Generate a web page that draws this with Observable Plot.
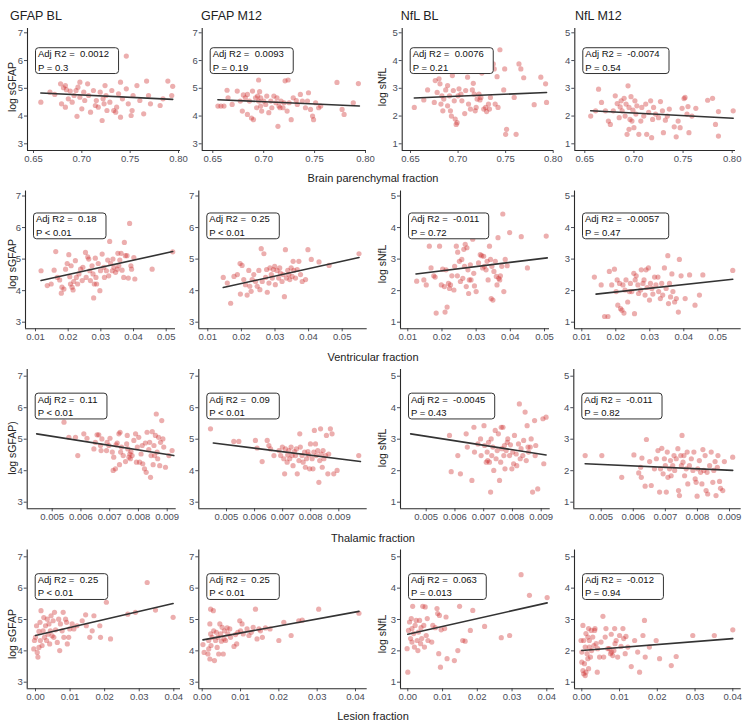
<!DOCTYPE html>
<html><head><meta charset="utf-8">
<script src="https://cdn.jsdelivr.net/npm/d3@7"></script>
<script src="https://cdn.jsdelivr.net/npm/@observablehq/plot@0.6"></script>
<style>
body{margin:0;background:#fff;}
#chart{position:relative;width:749px;height:725px;overflow:hidden;font-family:"Liberation Sans",Arial,sans-serif;color:#222;background:#fff;}
#chart svg{position:absolute;overflow:visible;}
.lbl{position:absolute;white-space:nowrap;}
</style></head><body><div id="chart"></div>
<script>
const columnTitles = ["GFAP BL", "GFAP M12", "NfL BL", "NfL M12"];
const rowTitles = ["Brain parenchymal fraction", "Ventricular fraction", "Thalamic fraction", "Lesion fraction"];
const yTitlesGFAP = ["log sGFAP", "log sGFAP", "log sGFAP)", "log sGFAP"];
const yTitleNfL = "log sNfL";
const xTickValues = [[0.65, 0.70, 0.75, 0.80], [0.01, 0.02, 0.03, 0.04, 0.05], [0.005, 0.006, 0.007, 0.008, 0.009], [0.00, 0.01, 0.02, 0.03, 0.04]];
const xTickDigits = [2, 2, 3, 2];
const yTicksGFAP = [3, 4, 5, 6, 7];
const yTicksNfL = [1, 2, 3, 4, 5];
const adjR2 = [["0.0012", "0.0093", "0.0076", "-0.0074"], ["0.18", "0.25", "-0.011", "-0.0057"], ["0.11", "0.09", "-0.0045", "-0.011"], ["0.25", "0.25", "0.063", "-0.012"]];
const pText = [["P = 0.3", "P = 0.19", "P = 0.21", "P = 0.54"], ["P < 0.01", "P < 0.01", "P = 0.72", "P = 0.47"], ["P < 0.01", "P < 0.01", "P = 0.43", "P = 0.82"], ["P < 0.01", "P < 0.01", "P = 0.013", "P = 0.94"]];

// Brain parenchymal fraction
const bpf_gfap_bl = [[0.6576,4.50],[0.667,4.86],[0.672,4.78],[0.678,5.16],[0.681,5.02],[0.683,5.10],[0.684,4.95],[0.686,4.62],[0.688,4.90],[0.679,4.44],[0.683,4.32],[0.690,4.50],[0.692,4.74],[0.694,4.92],[0.695,3.99],[0.696,5.04],[0.698,5.22],[0.698,4.68],[0.700,4.26],[0.702,4.86],[0.703,4.56],[0.706,5.16],[0.707,4.74],[0.709,4.14],[0.712,4.92],[0.714,4.38],[0.715,4.56],[0.717,4.32],[0.719,4.86],[0.721,3.84],[0.722,4.62],[0.723,4.44],[0.724,5.10],[0.725,4.74],[0.726,4.20],[0.729,4.50],[0.731,4.92],[0.733,4.20],[0.735,4.14],[0.736,4.32],[0.738,4.80],[0.740,5.22],[0.740,3.96],[0.742,4.62],[0.746,6.16],[0.746,4.98],[0.748,4.44],[0.751,4.02],[0.752,4.20],[0.753,4.74],[0.757,5.10],[0.760,4.56],[0.764,4.08],[0.767,5.26],[0.769,4.74],[0.771,4.44],[0.781,4.38],[0.784,4.62],[0.789,5.26],[0.793,4.74],[0.794,5.07]];
const bpf_gfap_m12 = [[0.655,4.36],[0.658,4.36],[0.661,4.36],[0.664,4.93],[0.665,4.66],[0.669,4.42],[0.674,4.90],[0.677,4.54],[0.679,4.18],[0.680,4.76],[0.682,4.66],[0.684,4.06],[0.684,4.78],[0.686,4.54],[0.688,3.93],[0.689,4.90],[0.690,3.87],[0.692,4.66],[0.693,4.30],[0.694,4.72],[0.695,5.30],[0.695,4.54],[0.696,4.88],[0.697,4.36],[0.697,4.66],[0.698,4.18],[0.700,4.54],[0.702,4.42],[0.703,4.72],[0.705,4.12],[0.707,4.54],[0.708,4.30],[0.710,4.72],[0.712,4.48],[0.713,4.66],[0.714,3.63],[0.715,4.36],[0.716,4.30],[0.717,4.54],[0.719,4.30],[0.720,4.48],[0.721,5.27],[0.723,4.18],[0.724,5.30],[0.725,4.48],[0.727,3.87],[0.729,4.66],[0.732,4.56],[0.733,4.42],[0.736,4.78],[0.738,4.54],[0.741,4.30],[0.743,4.54],[0.744,4.84],[0.746,4.24],[0.748,4.00],[0.749,3.87],[0.751,4.48],[0.754,4.30],[0.756,4.36],[0.772,5.21],[0.777,4.24],[0.779,4.06],[0.788,4.48],[0.793,5.17]];
const bpf_nfl_bl = [[0.654,2.31],[0.664,2.58],[0.668,2.94],[0.675,2.49],[0.676,3.28],[0.678,2.85],[0.680,3.34],[0.681,3.16],[0.682,2.43],[0.683,2.73],[0.684,2.19],[0.685,2.61],[0.687,2.94],[0.689,2.37],[0.689,3.10],[0.691,2.73],[0.692,2.19],[0.693,2.00],[0.694,3.46],[0.695,2.92],[0.696,2.55],[0.697,1.89],[0.698,1.70],[0.699,1.76],[0.700,2.73],[0.701,2.98],[0.703,2.79],[0.704,2.55],[0.707,2.09],[0.708,2.92],[0.710,3.40],[0.711,2.43],[0.713,2.25],[0.715,2.94],[0.716,3.18],[0.717,2.79],[0.718,2.19],[0.719,2.31],[0.720,2.61],[0.722,2.79],[0.723,2.58],[0.724,2.67],[0.725,3.55],[0.727,2.25],[0.729,2.31],[0.730,2.16],[0.732,2.43],[0.733,2.25],[0.734,2.67],[0.737,3.88],[0.738,3.70],[0.739,2.43],[0.741,3.42],[0.742,2.31],[0.744,4.39],[0.748,2.94],[0.749,3.70],[0.750,1.34],[0.751,1.52],[0.759,2.67],[0.761,1.34],[0.764,3.88],[0.766,3.70],[0.769,3.38],[0.780,2.41],[0.787,3.40],[0.792,3.16],[0.793,2.49]];
const bpf_nfl_m12 = [[0.656,2.00],[0.661,2.19],[0.664,2.97],[0.667,2.49],[0.671,2.19],[0.674,1.82],[0.676,1.70],[0.679,2.19],[0.681,2.73],[0.683,2.45],[0.685,1.94],[0.686,2.33],[0.687,2.55],[0.688,2.19],[0.690,2.64],[0.691,2.00],[0.692,2.43],[0.693,1.34],[0.694,3.09],[0.695,1.52],[0.695,2.31],[0.696,1.88],[0.697,2.70],[0.698,1.82],[0.699,2.21],[0.700,1.58],[0.701,2.55],[0.702,2.07],[0.703,2.37],[0.705,1.34],[0.707,1.82],[0.708,2.31],[0.710,2.00],[0.712,2.43],[0.713,1.34],[0.715,2.13],[0.717,2.55],[0.718,1.22],[0.719,1.88],[0.720,2.31],[0.722,2.07],[0.725,1.94],[0.727,2.52],[0.729,2.19],[0.730,1.40],[0.732,1.85],[0.734,2.00],[0.736,2.25],[0.741,1.61],[0.743,1.25],[0.745,1.82],[0.747,1.58],[0.749,2.28],[0.751,2.63],[0.752,2.67],[0.754,2.07],[0.755,2.34],[0.756,1.40],[0.759,2.00],[0.763,2.28],[0.775,2.57],[0.780,2.64],[0.783,1.70],[0.786,1.28],[0.786,2.16],[0.801,2.19]];

// Ventricular fraction
const vf_gfap_bl = [[0.0117,4.63],[0.0136,4.16],[0.0148,4.21],[0.0157,4.65],[0.0162,5.24],[0.0167,4.42],[0.0174,4.34],[0.0179,3.92],[0.0181,4.11],[0.0187,4.05],[0.0192,4.68],[0.0197,4.86],[0.0202,5.14],[0.0205,4.44],[0.0207,4.21],[0.0209,4.79],[0.0212,4.11],[0.0215,4.02],[0.0217,4.29],[0.0222,4.95],[0.0225,4.42],[0.0229,4.21],[0.0233,4.53],[0.0238,4.68],[0.0243,4.32],[0.0245,4.74],[0.0253,5.21],[0.0255,4.42],[0.0260,5.07],[0.0263,5.00],[0.0266,4.63],[0.0268,4.32],[0.0273,4.79],[0.0276,4.53],[0.0278,3.77],[0.0280,4.21],[0.0283,5.03],[0.0285,4.42],[0.0287,4.21],[0.0292,4.86],[0.0297,4.00],[0.0299,4.63],[0.0304,5.16],[0.0309,4.74],[0.0311,4.42],[0.0317,4.63],[0.0321,4.97],[0.0324,4.47],[0.0327,5.56],[0.0330,4.86],[0.0335,4.63],[0.0337,5.00],[0.0340,4.74],[0.0345,4.58],[0.0350,4.68],[0.0352,5.18],[0.0355,4.79],[0.0358,4.97],[0.0362,5.18],[0.0365,4.65],[0.0370,4.42],[0.0372,5.53],[0.0375,5.11],[0.0380,5.11],[0.0384,4.40],[0.0388,6.13],[0.0392,4.79],[0.0394,4.68],[0.0401,5.05],[0.0404,4.37],[0.0457,4.68],[0.0520,5.23]];
const vf_gfap_m12 = [[0.0146,4.42],[0.0158,4.24],[0.0168,3.60],[0.0178,4.45],[0.0188,4.51],[0.0196,4.86],[0.0197,3.89],[0.0202,4.80],[0.0207,4.35],[0.0212,4.19],[0.0217,3.86],[0.0222,4.64],[0.0225,4.14],[0.0229,3.98],[0.0232,4.35],[0.0237,4.51],[0.0242,4.29],[0.0247,4.14],[0.0252,4.64],[0.0255,4.03],[0.0259,5.33],[0.0262,4.29],[0.0267,5.17],[0.0272,4.42],[0.0275,4.67],[0.0277,3.95],[0.0282,4.24],[0.0285,4.72],[0.0289,4.51],[0.0292,4.40],[0.0295,4.67],[0.0299,4.77],[0.0301,4.19],[0.0306,4.64],[0.0311,4.40],[0.0314,4.72],[0.0316,4.56],[0.0321,4.29],[0.0324,4.51],[0.0328,3.81],[0.0331,5.30],[0.0334,4.40],[0.0338,4.64],[0.0341,4.51],[0.0344,4.35],[0.0348,4.72],[0.0351,4.45],[0.0354,4.93],[0.0356,4.64],[0.0361,4.40],[0.0366,4.67],[0.0371,4.93],[0.0376,4.51],[0.0381,4.29],[0.0391,4.35],[0.0398,5.30],[0.0408,4.99],[0.0431,4.91],[0.0461,4.80],[0.0550,5.17]];
const vf_nfl_bl = [[0.0126,2.30],[0.0147,2.34],[0.0154,2.18],[0.0163,3.41],[0.0168,2.72],[0.0176,2.47],[0.0180,2.43],[0.0183,1.29],[0.0193,3.41],[0.0198,2.18],[0.0202,2.68],[0.0207,2.13],[0.0209,1.32],[0.0212,2.66],[0.0215,1.48],[0.0219,2.23],[0.0222,2.07],[0.0225,2.18],[0.0229,2.47],[0.0235,2.02],[0.0237,2.77],[0.0242,3.41],[0.0245,2.47],[0.0246,3.22],[0.0251,2.93],[0.0254,2.29],[0.0258,2.99],[0.0261,2.39],[0.0264,3.31],[0.0266,2.77],[0.0268,3.47],[0.0271,2.13],[0.0273,3.36],[0.0276,2.66],[0.0278,1.91],[0.0280,2.34],[0.0283,2.82],[0.0285,2.34],[0.0290,3.63],[0.0293,2.55],[0.0295,2.15],[0.0300,1.97],[0.0307,2.88],[0.0312,3.14],[0.0316,3.11],[0.0319,2.72],[0.0322,3.09],[0.0324,2.77],[0.0329,2.66],[0.0332,2.93],[0.0335,2.34],[0.0339,3.41],[0.0342,2.99],[0.0344,1.75],[0.0346,2.77],[0.0349,1.70],[0.0352,2.61],[0.0356,2.93],[0.0359,2.45],[0.0361,2.18],[0.0364,3.68],[0.0366,2.39],[0.0369,2.34],[0.0371,2.47],[0.0375,2.77],[0.0378,4.43],[0.0381,1.97],[0.0385,2.99],[0.0391,2.79],[0.0398,3.84],[0.0432,3.71],[0.0450,2.72],[0.0505,3.73]];
const vf_nfl_m12 = [[0.0137,2.43],[0.0157,2.18],[0.0167,1.18],[0.0177,1.18],[0.0181,2.61],[0.0188,2.18],[0.0196,2.68],[0.0201,1.97],[0.0204,2.34],[0.0206,1.54],[0.0211,2.23],[0.0214,1.43],[0.0218,1.38],[0.0221,2.18],[0.0224,1.29],[0.0227,2.02],[0.0230,2.34],[0.0235,1.64],[0.0240,1.97],[0.0243,2.23],[0.0247,1.97],[0.0253,2.55],[0.0255,1.27],[0.0257,2.34],[0.0260,2.47],[0.0265,2.18],[0.0267,1.91],[0.0273,2.02],[0.0275,2.66],[0.0280,2.23],[0.0283,2.34],[0.0286,1.86],[0.0289,2.66],[0.0292,2.10],[0.0296,2.72],[0.0299,1.70],[0.0302,2.23],[0.0306,2.07],[0.0309,1.89],[0.0314,2.43],[0.0318,2.18],[0.0324,2.43],[0.0326,1.97],[0.0331,1.75],[0.0335,2.23],[0.0338,1.86],[0.0343,2.72],[0.0348,2.07],[0.0353,3.11],[0.0355,1.59],[0.0358,2.23],[0.0361,1.80],[0.0365,2.53],[0.0368,1.97],[0.0373,1.64],[0.0378,1.75],[0.0384,1.32],[0.0387,2.99],[0.0392,2.47],[0.0404,1.75],[0.0417,2.50],[0.0433,1.54],[0.0446,1.86],[0.0456,2.50],[0.0544,2.64]];

// Thalamic fraction
const tf_gfap_bl = [[0.00541,5.54],[0.00558,5.06],[0.00581,5.06],[0.00589,4.48],[0.00610,5.17],[0.00621,5.03],[0.00645,4.69],[0.00650,4.90],[0.00656,5.14],[0.00662,5.14],[0.00668,4.80],[0.00670,4.64],[0.00673,5.01],[0.00689,4.64],[0.00691,4.90],[0.00697,4.80],[0.00701,5.03],[0.00709,4.59],[0.00712,4.01],[0.00714,4.43],[0.00720,4.06],[0.00722,4.82],[0.00726,4.88],[0.00732,5.17],[0.00734,4.19],[0.00736,5.22],[0.00738,4.59],[0.00741,4.75],[0.00747,4.48],[0.00755,4.29],[0.00759,4.85],[0.00761,5.12],[0.00763,4.69],[0.00767,4.43],[0.00770,4.53],[0.00772,4.38],[0.00774,4.61],[0.00778,4.48],[0.00784,4.96],[0.00790,5.17],[0.00793,4.27],[0.00796,4.75],[0.00801,5.06],[0.00804,4.27],[0.00809,4.53],[0.00813,4.80],[0.00815,4.22],[0.00821,4.06],[0.00824,4.88],[0.00827,3.95],[0.00830,5.22],[0.00836,4.67],[0.00839,4.90],[0.00842,3.79],[0.00844,4.48],[0.00848,5.24],[0.00851,4.19],[0.00854,4.80],[0.00856,4.48],[0.00859,5.12],[0.00862,5.80],[0.00865,4.59],[0.00867,4.38],[0.00870,5.06],[0.00874,4.16],[0.00877,4.90],[0.00881,5.59],[0.00885,5.01],[0.00888,4.75],[0.00894,4.11],[0.00906,4.48],[0.00917,4.64]];
const tf_gfap_m12 = [[0.00443,5.33],[0.00526,4.93],[0.00544,4.93],[0.00603,4.96],[0.00609,4.72],[0.00627,4.29],[0.00645,4.96],[0.00651,4.80],[0.00657,4.69],[0.00669,4.48],[0.00687,4.64],[0.00693,4.48],[0.00699,4.75],[0.00704,4.38],[0.00707,3.90],[0.00710,4.69],[0.00716,4.27],[0.00718,4.50],[0.00722,4.64],[0.00725,4.38],[0.00730,4.75],[0.00734,4.48],[0.00737,4.16],[0.00742,4.61],[0.00746,4.48],[0.00749,4.69],[0.00752,3.90],[0.00758,4.32],[0.00761,5.17],[0.00763,4.75],[0.00769,4.48],[0.00773,4.27],[0.00778,4.59],[0.00781,4.11],[0.00785,4.38],[0.00790,4.61],[0.00793,4.50],[0.00796,4.06],[0.00799,4.85],[0.00805,4.38],[0.00808,4.06],[0.00811,4.59],[0.00813,5.28],[0.00817,4.85],[0.00820,4.48],[0.00825,4.64],[0.00829,3.63],[0.00832,4.32],[0.00835,5.33],[0.00837,4.53],[0.00841,4.11],[0.00844,4.64],[0.00847,4.38],[0.00853,4.48],[0.00856,5.12],[0.00861,3.90],[0.00864,4.53],[0.00870,5.33],[0.00876,5.17],[0.00882,3.90],[0.00894,4.01],[0.00971,4.48]];
const tf_nfl_bl = [[0.00581,3.12],[0.00587,1.97],[0.00610,2.48],[0.00619,1.90],[0.00639,3.17],[0.00643,2.75],[0.00659,1.69],[0.00666,3.38],[0.00668,2.59],[0.00680,2.85],[0.00689,3.01],[0.00691,2.48],[0.00701,3.43],[0.00703,2.80],[0.00709,2.27],[0.00712,2.59],[0.00714,2.32],[0.00717,2.90],[0.00720,2.27],[0.00724,1.32],[0.00726,3.01],[0.00728,2.48],[0.00732,2.75],[0.00735,2.01],[0.00740,3.28],[0.00743,2.38],[0.00747,2.64],[0.00751,3.17],[0.00755,1.69],[0.00759,2.27],[0.00761,3.38],[0.00763,2.70],[0.00767,3.38],[0.00770,2.48],[0.00772,2.80],[0.00774,2.06],[0.00778,2.64],[0.00782,2.90],[0.00784,3.01],[0.00790,2.48],[0.00793,2.82],[0.00798,2.06],[0.00801,2.59],[0.00804,2.22],[0.00807,3.12],[0.00813,2.53],[0.00815,2.16],[0.00821,2.85],[0.00824,4.12],[0.00827,2.38],[0.00830,2.70],[0.00836,2.48],[0.00839,2.96],[0.00844,3.86],[0.00848,2.32],[0.00851,3.43],[0.00854,2.75],[0.00856,2.59],[0.00862,2.75],[0.00865,3.01],[0.00870,1.32],[0.00877,3.59],[0.00879,2.48],[0.00881,2.80],[0.00888,1.42],[0.00906,3.65],[0.00909,2.22],[0.00917,3.70]];
const tf_nfl_m12 = [[0.00450,2.48],[0.00502,2.48],[0.00564,1.79],[0.00602,2.50],[0.00617,1.93],[0.00623,2.11],[0.00625,1.79],[0.00627,2.40],[0.00637,1.51],[0.00641,2.99],[0.00651,2.29],[0.00656,1.53],[0.00666,2.06],[0.00672,2.38],[0.00677,2.64],[0.00682,1.32],[0.00685,2.06],[0.00689,2.71],[0.00693,1.90],[0.00697,2.38],[0.00700,2.16],[0.00703,1.32],[0.00706,2.59],[0.00708,1.79],[0.00713,2.06],[0.00716,2.32],[0.00718,1.84],[0.00723,2.16],[0.00727,2.48],[0.00729,2.01],[0.00734,2.38],[0.00739,2.70],[0.00741,1.37],[0.00744,1.21],[0.00748,2.48],[0.00750,2.16],[0.00752,3.12],[0.00755,2.27],[0.00758,2.48],[0.00760,1.84],[0.00765,2.06],[0.00768,2.59],[0.00770,1.58],[0.00775,2.16],[0.00781,2.38],[0.00786,2.01],[0.00789,2.59],[0.00793,1.74],[0.00796,1.63],[0.00799,1.19],[0.00801,2.06],[0.00806,2.32],[0.00810,1.95],[0.00814,1.58],[0.00817,2.67],[0.00820,2.01],[0.00824,2.48],[0.00827,1.37],[0.00830,1.95],[0.00832,1.26],[0.00838,2.16],[0.00843,2.59],[0.00848,1.63],[0.00851,2.01],[0.00855,2.29],[0.00858,1.21],[0.00862,2.11],[0.00864,2.48],[0.00869,1.66],[0.00872,1.44],[0.00879,1.37],[0.00884,2.29],[0.00910,2.43]];

// Lesion fraction
const lf_gfap_bl = [[-0.0005,4.06],[-0.0003,4.33],[0.0000,4.43],[0.0003,4.80],[0.0005,3.95],[0.0007,3.80],[0.0010,4.11],[0.0010,4.62],[0.0013,4.91],[0.0014,4.33],[0.0016,5.28],[0.0019,4.17],[0.0022,4.64],[0.0024,5.06],[0.0026,4.43],[0.0029,4.80],[0.0032,4.33],[0.0034,5.01],[0.0036,4.53],[0.0039,4.86],[0.0041,4.22],[0.0043,4.64],[0.0045,5.12],[0.0048,4.48],[0.0051,4.96],[0.0053,4.43],[0.0055,5.23],[0.0058,4.67],[0.0063,4.27],[0.0067,5.01],[0.0070,4.01],[0.0072,4.86],[0.0077,4.64],[0.0080,5.23],[0.0082,4.43],[0.0087,5.01],[0.0090,4.91],[0.0092,4.22],[0.0096,4.43],[0.0099,4.70],[0.0106,4.86],[0.0111,4.70],[0.0120,4.80],[0.0135,4.96],[0.0145,5.15],[0.0147,4.80],[0.0157,4.43],[0.0164,4.64],[0.0169,5.12],[0.0186,4.80],[0.0188,4.43],[0.0205,5.55],[0.0217,4.38],[0.0267,5.17],[0.0289,5.23],[0.0323,6.18],[0.0347,5.30],[0.0398,5.07]];
const lf_gfap_m12 = [[0.0002,4.20],[0.0005,3.95],[0.0015,3.90],[0.0017,4.06],[0.0017,4.33],[0.0020,3.74],[0.0020,4.86],[0.0022,4.54],[0.0022,5.33],[0.0023,4.17],[0.0026,4.43],[0.0029,5.28],[0.0030,4.64],[0.0032,3.69],[0.0035,4.33],[0.0037,4.59],[0.0039,4.11],[0.0041,4.43],[0.0043,3.90],[0.0046,4.86],[0.0048,4.54],[0.0050,4.31],[0.0052,4.75],[0.0055,3.90],[0.0057,4.38],[0.0058,4.64],[0.0061,4.33],[0.0065,4.73],[0.0067,4.54],[0.0072,4.70],[0.0074,4.43],[0.0083,4.14],[0.0087,4.52],[0.0090,4.22],[0.0093,4.59],[0.0098,4.96],[0.0100,4.64],[0.0104,4.86],[0.0107,4.54],[0.0117,4.70],[0.0122,4.49],[0.0128,4.59],[0.0133,4.75],[0.0139,5.33],[0.0143,4.38],[0.0148,4.70],[0.0152,4.64],[0.0157,4.43],[0.0165,4.73],[0.0177,4.70],[0.0200,4.33],[0.0213,4.91],[0.0232,4.49],[0.0252,4.96],[0.0261,4.98],[0.0304,5.33],[0.0409,5.20]];
const lf_nfl_bl = [[-0.0002,2.07],[0.0000,1.32],[0.0002,2.65],[0.0005,2.92],[0.0008,2.39],[0.0010,3.03],[0.0012,2.71],[0.0012,2.28],[0.0014,3.42],[0.0017,2.55],[0.0019,2.12],[0.0021,2.81],[0.0024,2.97],[0.0027,2.33],[0.0029,2.01],[0.0031,2.60],[0.0034,2.97],[0.0037,2.23],[0.0038,2.74],[0.0040,2.39],[0.0043,3.42],[0.0046,2.81],[0.0048,2.12],[0.0050,3.40],[0.0053,2.49],[0.0056,3.03],[0.0058,2.33],[0.0069,2.28],[0.0072,2.81],[0.0079,2.74],[0.0084,3.35],[0.0086,3.19],[0.0089,1.91],[0.0091,3.13],[0.0094,1.48],[0.0096,2.67],[0.0106,2.71],[0.0110,3.08],[0.0113,1.75],[0.0134,1.69],[0.0144,2.01],[0.0149,3.42],[0.0158,2.33],[0.0165,2.31],[0.0180,2.65],[0.0187,3.29],[0.0221,2.78],[0.0269,2.42],[0.0293,2.49],[0.0326,4.43],[0.0350,3.77],[0.0401,3.70]];
const lf_nfl_m12 = [[-0.0002,2.33],[0.0000,1.96],[0.0000,1.64],[0.0003,1.37],[0.0003,2.81],[0.0005,1.27],[0.0005,2.33],[0.0007,1.59],[0.0009,1.21],[0.0009,2.12],[0.0011,2.55],[0.0011,1.32],[0.0014,1.91],[0.0016,2.44],[0.0016,1.75],[0.0018,1.43],[0.0018,2.71],[0.0020,2.33],[0.0020,2.12],[0.0023,1.80],[0.0025,2.65],[0.0026,2.01],[0.0029,2.44],[0.0032,2.17],[0.0034,2.65],[0.0035,2.71],[0.0038,2.23],[0.0041,1.32],[0.0042,2.07],[0.0047,1.80],[0.0051,2.28],[0.0056,3.10],[0.0058,1.80],[0.0062,2.44],[0.0064,2.71],[0.0069,2.07],[0.0073,2.07],[0.0076,1.91],[0.0078,2.53],[0.0079,1.96],[0.0082,1.85],[0.0085,2.01],[0.0087,2.71],[0.0088,2.23],[0.0091,2.33],[0.0095,1.80],[0.0100,2.49],[0.0104,2.14],[0.0109,2.71],[0.0111,2.39],[0.0115,1.91],[0.0117,2.46],[0.0122,2.12],[0.0131,1.50],[0.0140,2.33],[0.0148,1.96],[0.0153,1.32],[0.0162,2.49],[0.0166,2.97],[0.0168,1.80],[0.0179,2.12],[0.0197,2.33],[0.0206,1.75],[0.0237,1.53],[0.0250,1.82],[0.0294,2.49],[0.0351,2.49],[0.0400,2.67]];

// Fitted regression lines (end points)
const fit_bpf = [[[0.6576,4.83],[0.794,4.60]], [[0.655,4.59],[0.794,4.36]], [[0.654,2.65],[0.793,2.85]], [[0.656,2.19],[0.801,1.92]]];
const fit_vf = [[[0.0117,4.32],[0.0520,5.24]], [[0.0146,4.10],[0.0550,5.05]], [[0.0124,2.53],[0.0508,3.04]], [[0.0142,1.89],[0.0544,2.36]]];
const fit_tf = [[[0.00446,5.17],[0.00923,4.48]], [[0.00453,4.88],[0.00977,4.29]], [[0.00446,3.17],[0.00917,2.50]], [[0.00450,2.22],[0.00910,2.01]]];
const fit_lf = [[[0.0000,4.49],[0.0398,5.51]], [[0.0002,4.35],[0.0409,5.26]], [[0.0000,2.53],[0.0401,3.53]], [[0.0000,2.01],[0.0400,2.39]]];

const points = [[bpf_gfap_bl, bpf_gfap_m12, bpf_nfl_bl, bpf_nfl_m12], [vf_gfap_bl, vf_gfap_m12, vf_nfl_bl, vf_nfl_m12], [tf_gfap_bl, tf_gfap_m12, tf_nfl_bl, tf_nfl_m12], [lf_gfap_bl, lf_gfap_m12, lf_nfl_bl, lf_nfl_m12]];
const fits = [fit_bpf, fit_vf, fit_tf, fit_lf];

// ---- layout (pixels) ----
const colSvg = [[0, 182], [182, 374], [374, 557], [557, 749]];
const rowGeom = [
  {svgTop: 20, top: 28, bottom: 150, svgBottom: 170, pLow: 143.3, pHigh: 32.3},
  {svgTop: 183, top: 190.5, bottom: 328.3, svgBottom: 349, pLow: 321.7, pHigh: 195.5},
  {svgTop: 363, top: 369, bottom: 508.3, svgBottom: 529, pLow: 501.7, pHigh: 375.7},
  {svgTop: 543, top: 549.5, bottom: 688.3, svgBottom: 709, pLow: 681.7, pHigh: 556.3}
];
// [frameLeft, frameRight, v0, px0, v1, px1]
const xGeom = [
  [[27,180,0.65,33,0.80,178],[201.7,366,0.65,212.3,0.80,365],[401.7,553,0.65,410,0.80,552.7],[574.3,735,0.65,584.3,0.80,731.7]],
  [[25,175,0.01,35,0.05,165.7],[198.3,366.7,0.01,207.3,0.05,341.7],[400,549,0.01,407.3,0.05,544],[574,740.7,0.01,581.3,0.05,717.3]],
  [[26.7,175.7,0.005,51.7,0.009,166.7],[198.3,366.7,0.005,226,0.009,338.3],[400,549.7,0.005,425.7,0.009,540.7],[573.3,740.7,0.005,600.7,0.009,729]],
  [[26.7,180,0,35,0.04,173.3],[198.3,366.7,0,201.7,0.04,355],[400,554,0,407.3,0.04,546.3],[574,740.7,0,581.3,0.04,732.3]]
];
const titleX = [10, 201, 400.7, 575];
const rowTitleY = [178, 357, 538, 716];
const yTitleY = [87, 264, 448, 634];
const yTitleX = [12, null, 382, null];

const chart = document.getElementById("chart");
const NS = "http://www.w3.org/2000/svg";
const FONT = '"Liberation Sans", Arial, sans-serif';

for (let r = 0; r < 4; r++) {
  const rg = rowGeom[r];
  for (let c = 0; c < 4; c++) {
    const [fl, fr, v0, p0, v1, p1] = xGeom[r][c];
    const kx = (v1 - v0) / (p1 - p0);
    const xDom = [v0 + (fl - p0) * kx, v0 + (fr - p0) * kx];
    const nfl = c >= 2;
    const [ya, yb] = nfl ? [1, 5] : [3, 7];
    const ky = (yb - ya) / (rg.pHigh - rg.pLow);
    const yDom = [ya + (rg.bottom - rg.pLow) * ky, ya + (rg.top - rg.pLow) * ky];
    const [sx0, sx1] = colSvg[c];
    const digits = xTickDigits[r];
    const label = "Adj R2 =  " + adjR2[r][c] + "\n" + pText[r][c];
    const svg = Plot.plot({
      width: sx1 - sx0,
      height: rg.svgBottom - rg.svgTop,
      marginLeft: fl - sx0,
      marginRight: sx1 - fr,
      marginTop: rg.top - rg.svgTop,
      marginBottom: rg.svgBottom - rg.bottom,
      x: {domain: xDom},
      y: {domain: yDom},
      style: {background: "none", fontFamily: FONT, fontSize: "9.5px", color: "#4a4d58", overflow: "visible"},
      marks: [
        Plot.axisX({ticks: xTickValues[r], tickFormat: d => d.toFixed(digits), tickSize: 3, tickPadding: 1.5, label: null, fontSize: 9.5}),
        Plot.axisY({ticks: nfl ? yTicksNfL : yTicksGFAP, tickFormat: d => String(d), tickSize: 3, tickPadding: 1.5, label: null, fontSize: 9.5}),
        Plot.dot(points[r][c], {x: d => d[0], y: d => d[1], r: 2.6, fill: "#cd2a2a", fillOpacity: 0.38, stroke: "none"}),
        Plot.line(fits[r][c], {x: d => d[0], y: d => d[1], stroke: "#333", strokeWidth: 1.6}),
        Plot.ruleY([yDom[0]], {stroke: "#2a2a2a", strokeWidth: 1.1}),
        Plot.ruleX([xDom[0]], {stroke: "#2a2a2a", strokeWidth: 1.1}),
        Plot.text([label], {text: d => d, y: () => (nfl ? 4.46 : 6.46), frameAnchor: "left", dx: 10.5, textAnchor: "start", lineAnchor: "top", fontSize: 9.5, lineHeight: 1.4, fill: "#111"})
      ]
    });
    svg.style.left = sx0 + "px";
    svg.style.top = rg.svgTop + "px";
    chart.appendChild(svg);
    svg.querySelectorAll('g[aria-label="text"] > text').forEach(t => {
      const b = t.getBBox();
      const rect = document.createElementNS(NS, "rect");
      rect.setAttribute("x", b.x - 2.5);
      rect.setAttribute("y", b.y - 0.5);
      rect.setAttribute("width", b.width + 12);
      rect.setAttribute("height", b.height + 1.5);
      rect.setAttribute("rx", 3);
      rect.setAttribute("fill", "white");
      rect.setAttribute("stroke", "#333");
      rect.setAttribute("stroke-width", 1);
      const tr = t.getAttribute("transform");
      if (tr) rect.setAttribute("transform", tr);
      t.parentNode.insertBefore(rect, t);
    });
  }
}

function addLabel(text, css) {
  const d = document.createElement("div");
  d.className = "lbl";
  d.textContent = text;
  Object.assign(d.style, css);
  chart.appendChild(d);
}
columnTitles.forEach((t, c) => addLabel(t, {left: titleX[c] + "px", top: "8px", fontSize: "12.5px", lineHeight: "16px", color: "#222"}));
rowTitles.forEach((t, r) => addLabel(t, {left: "373px", top: rowTitleY[r] + "px", fontSize: "11px", transform: "translate(-50%,-50%)", color: "#222"}));
for (let r = 0; r < 4; r++) {
  addLabel(yTitlesGFAP[r], {left: yTitleX[0] + "px", top: yTitleY[r] + "px", fontSize: "10.5px", transform: "translate(-50%,-50%) rotate(-90deg)", color: "#222"});
  addLabel(yTitleNfL, {left: yTitleX[2] + "px", top: yTitleY[r] + "px", fontSize: "10.5px", transform: "translate(-50%,-50%) rotate(-90deg)", color: "#222"});
}
</script></body></html>
